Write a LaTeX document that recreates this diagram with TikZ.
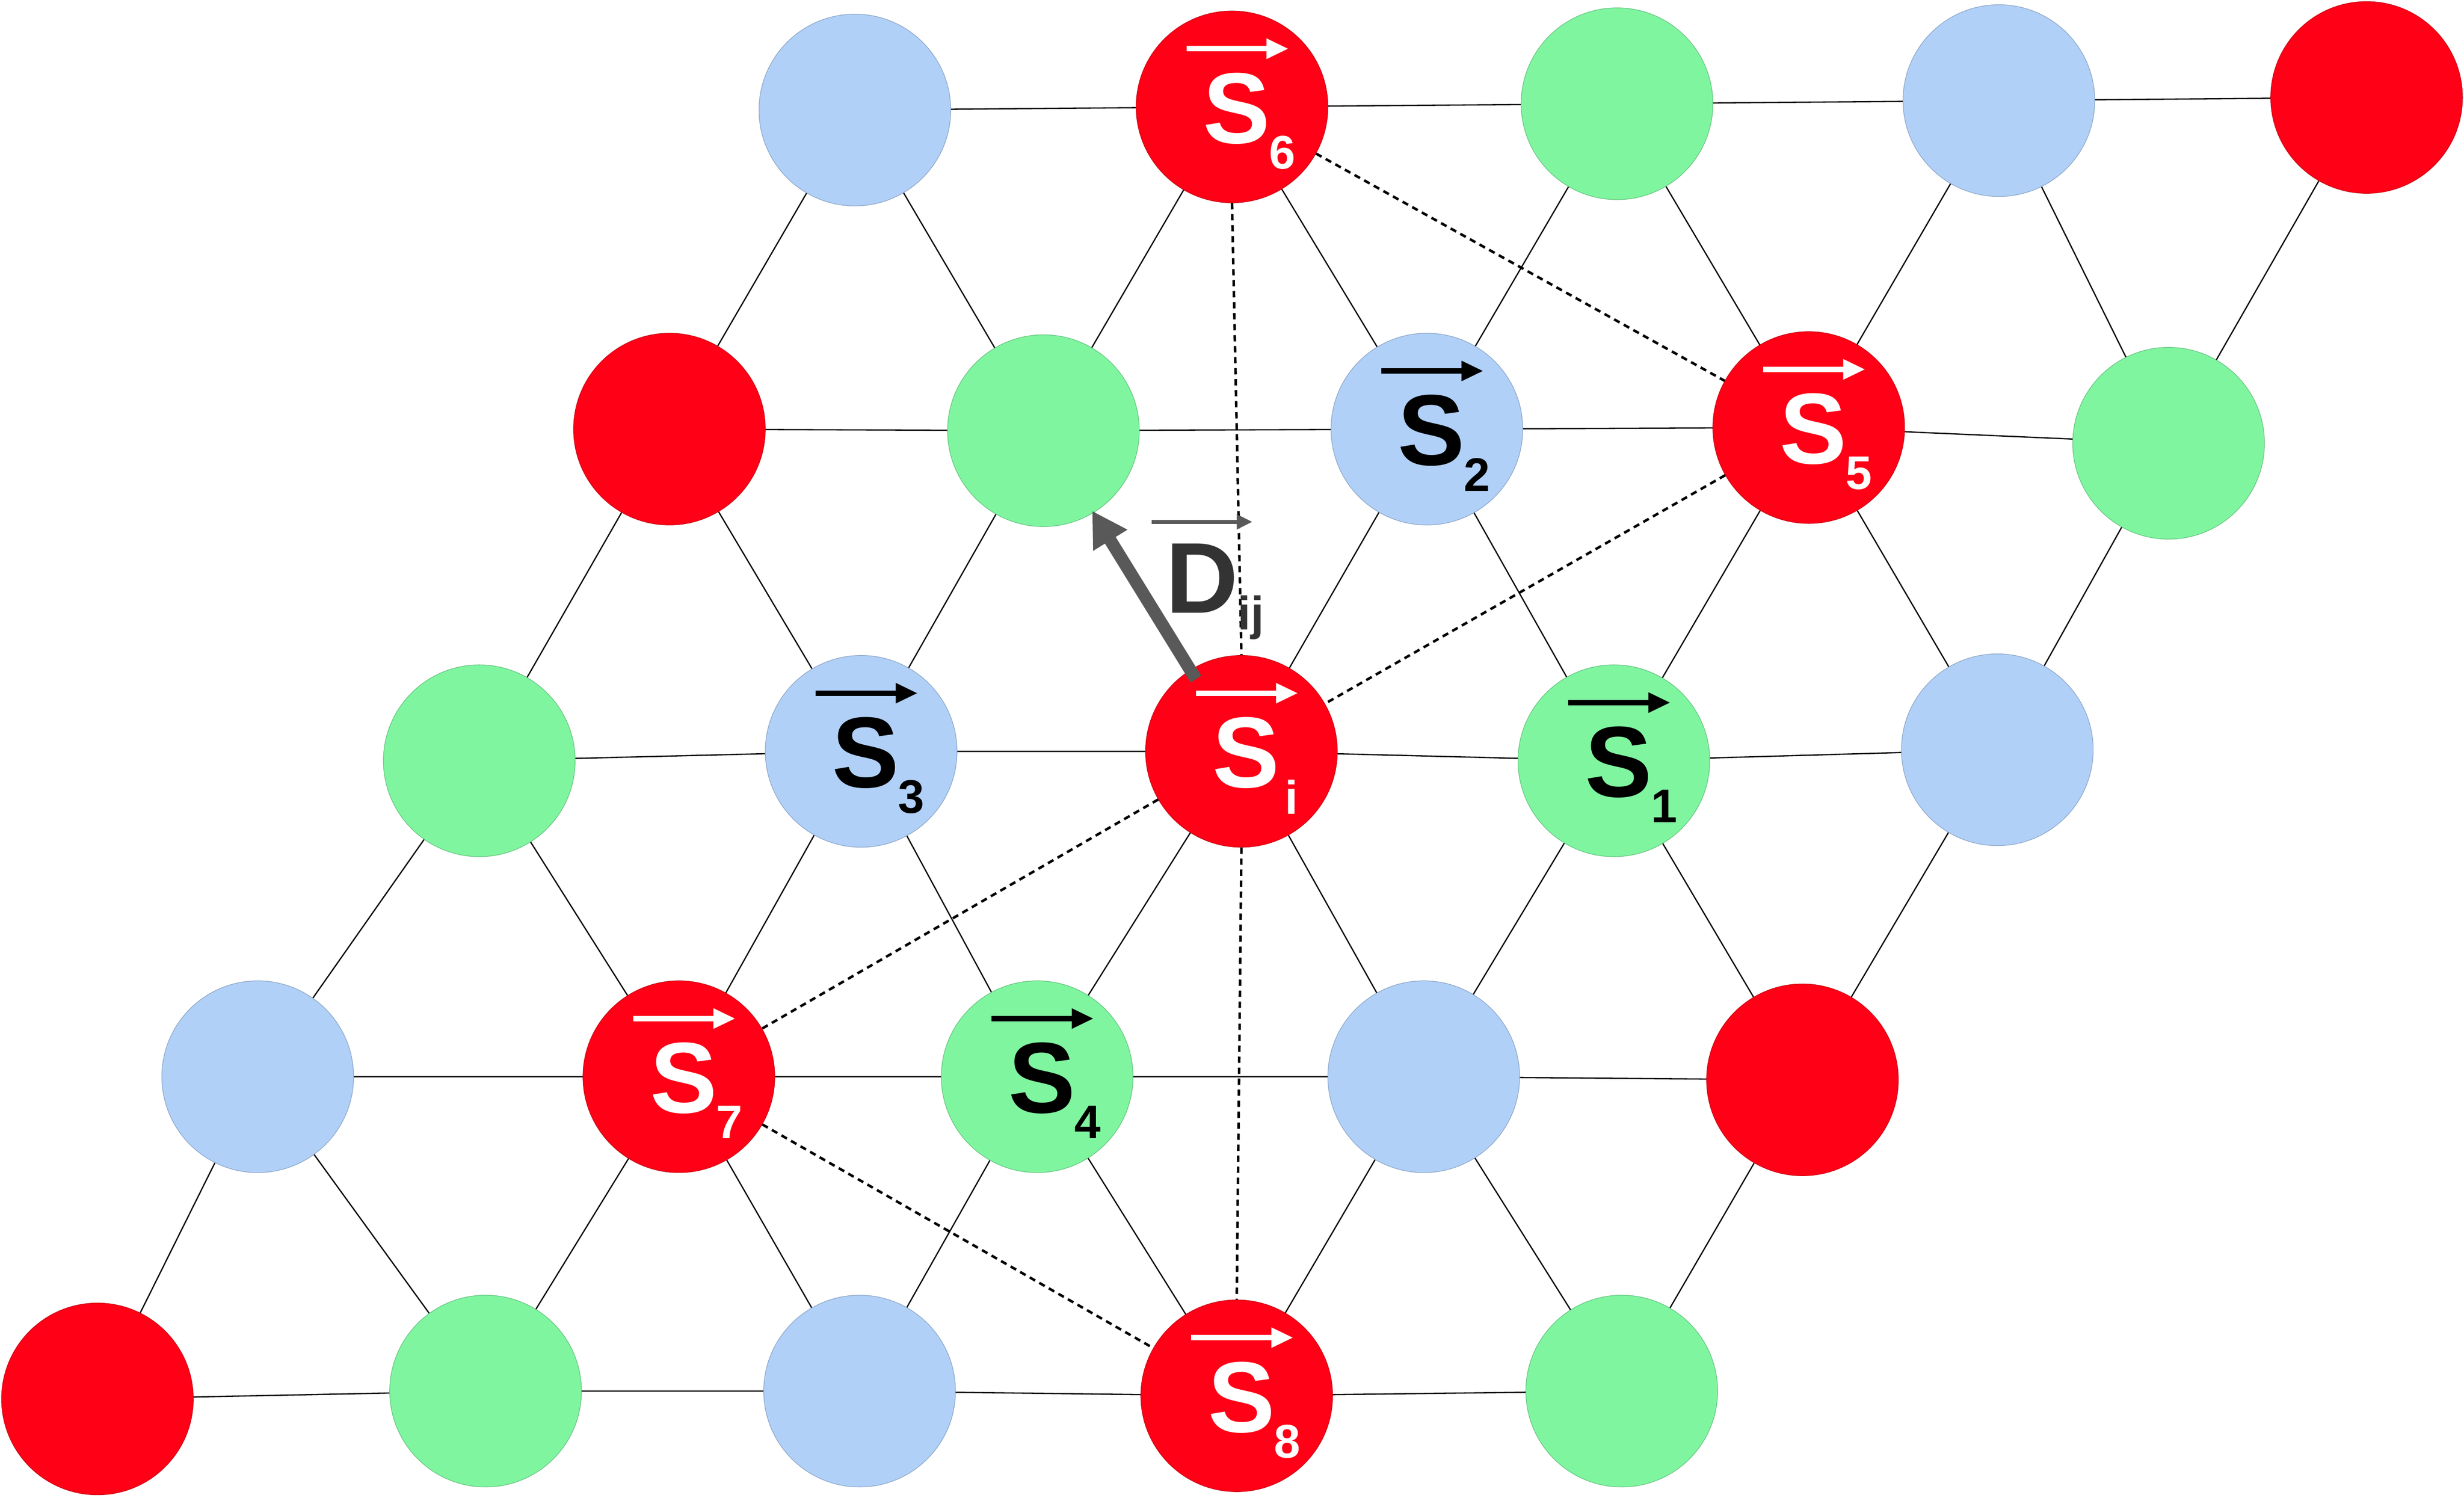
\documentclass[tikz,border=0pt]{standalone}
\usepackage{fontspec}
\setmainfont{Liberation Sans}
\usetikzlibrary{arrows.meta}
\definecolor{cred}{HTML}{FF0016}
\definecolor{cgreen}{HTML}{80F5A0}
\definecolor{cblue}{HTML}{B0D0F8}
\tikzset{
 site/.style={circle,minimum size=122pt,inner sep=0pt,draw=#1!80!black,line width=0.4pt,fill=#1},
 bond/.style={line width=0.8pt,black},
 dbond/.style={line width=1.6pt,dashed,dash pattern=on 4pt off 3pt,black},
 lblS/.style={font=\fontsize{64}{66}\selectfont\bfseries,inner sep=0pt},
 lblsub/.style={font=\fontsize{30}{32}\selectfont\bfseries,inner sep=0pt},
 sarrow/.style={line width=3.5pt,-{Triangle[length=14pt,width=12pt]}}
}
\newcommand{\spinlbl}[3]{%
 \node[lblS,text=#3] (#1S) at ([shift={(3pt,-1pt)}]#1) {S};
 \node[lblsub,text=#3] (#1s) at ([shift={(32pt,-29pt)}]#1) {#2};
 \coordinate (#1a) at ([shift={(-29pt,37pt)}]#1);
 \coordinate (#1b) at ([shift={(36pt,37pt)}]#1);
 \draw[sarrow,#3] (#1a) -- (#1b);}
\begin{document}
\begin{tikzpicture}[x=1pt,y=-1pt]
\useasboundingbox (0,0) rectangle (1568,953);
% positions
\coordinate (a0) at (544,70); \coordinate (a1) at (784,68); \coordinate (a2) at (1029,66); \coordinate (a3) at (1272,64); \coordinate (a4) at (1506,62);
\coordinate (b0) at (426,273); \coordinate (b1) at (664,274); \coordinate (b2) at (908,273); \coordinate (b3) at (1151,272); \coordinate (b4) at (1380,282);
\coordinate (c0) at (305,484); \coordinate (c1) at (548,478); \coordinate (c2) at (790,478); \coordinate (c3) at (1027,484); \coordinate (c4) at (1271,477);
\coordinate (d0) at (164,685); \coordinate (d1) at (432,685); \coordinate (d2) at (660,685); \coordinate (d3) at (906,685); \coordinate (d4) at (1147,687);
\coordinate (e0) at (62,890); \coordinate (e1) at (309,885); \coordinate (e2) at (547,885); \coordinate (e3) at (787,888); \coordinate (e4) at (1032,885);
% horizontal bonds
\foreach \r in {a,b,c,d,e}{\draw[bond] (\r0)--(\r1)--(\r2)--(\r3)--(\r4);}
% diagonal bonds
\draw[bond] (a0)--(b0) (a0)--(b1) (a1)--(b1) (a1)--(b2) (a2)--(b2) (a2)--(b3) (a3)--(b3) (a3)--(b4) (a4)--(b4);
\draw[bond] (b0)--(c0) (b0)--(c1) (b1)--(c1) (b1)--(c2) (b2)--(c2) (b2)--(c3) (b3)--(c3) (b3)--(c4) (b4)--(c4);
\draw[bond] (c0)--(d0) (c0)--(d1) (c1)--(d1) (c1)--(d2) (c2)--(d2) (c2)--(d3) (c3)--(d3) (c3)--(d4) (c4)--(d4);
\draw[bond] (d0)--(e0) (d0)--(e1) (d1)--(e1) (d1)--(e2) (d2)--(e2) (d2)--(e3) (d3)--(e3) (d3)--(e4) (d4)--(e4);
% sites
\node[site=cblue] (A0) at (a0) {}; \node[site=cred] (A1) at (a1) {}; \node[site=cgreen] (A2) at (a2) {}; \node[site=cblue] (A3) at (a3) {}; \node[site=cred] (A4) at (a4) {};
\node[site=cred] (B0) at (b0) {}; \node[site=cgreen] (B1) at (b1) {}; \node[site=cblue] (B2) at (b2) {}; \node[site=cred] (B3) at (b3) {}; \node[site=cgreen] (B4) at (b4) {};
\node[site=cgreen] (C0) at (c0) {}; \node[site=cblue] (C1) at (c1) {}; \node[site=cred] (C2) at (c2) {}; \node[site=cgreen] (C3) at (c3) {}; \node[site=cblue] (C4) at (c4) {};
\node[site=cblue] (D0) at (d0) {}; \node[site=cred] (D1) at (d1) {}; \node[site=cgreen] (D2) at (d2) {}; \node[site=cblue] (D3) at (d3) {}; \node[site=cred] (D4) at (d4) {};
\node[site=cred] (E0) at (e0) {}; \node[site=cgreen] (E1) at (e1) {}; \node[site=cblue] (E2) at (e2) {}; \node[site=cred] (E3) at (e3) {}; \node[site=cgreen] (E4) at (e4) {};
% dashed next-nearest bonds
\draw[dbond] (A1)--(B3); \draw[dbond] (B3)--(C2); \draw[dbond] (C2)--(D1); \draw[dbond] (D1)--(E3);
\draw[dbond] (A1.south)--(C2.north); \draw[dbond] (C2.south)--(E3.north);
% DM vector
\coordinate (Ds) at ([shift={(-29pt,46pt)}]c2);
\coordinate (Dt) at (695,325);
\draw[line width=8pt,color=black!65,-{Triangle[length=22pt,width=24pt]}] (Ds) -- (Dt);
\node[lblS,text=black!80] (Dl) at (765,368) {D};
\node[lblsub,text=black!80] (Dsub) at (796,393) {ij};
\coordinate (Da) at (733,332); \coordinate (Db) at (797,332);
\draw[line width=2.5pt,black!65,-{Triangle[length=10pt,width=9pt]}] (Da) -- (Db);
% labels
\spinlbl{c2}{i}{white}
\spinlbl{c3}{1}{black}
\spinlbl{b2}{2}{black}
\spinlbl{c1}{3}{black}
\spinlbl{d2}{4}{black}
\spinlbl{b3}{5}{white}
\spinlbl{a1}{6}{white}
\spinlbl{d1}{7}{white}
\spinlbl{e3}{8}{white}
\end{tikzpicture}
\end{document}
